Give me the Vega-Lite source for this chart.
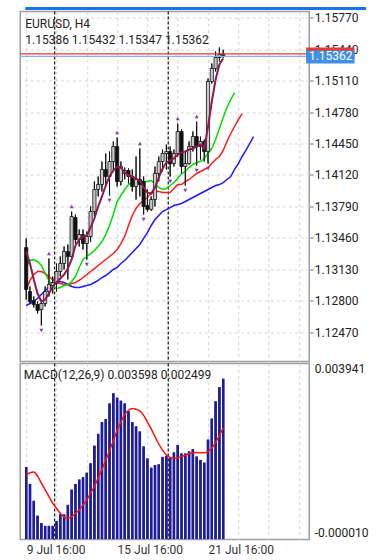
{
  "$schema": "https://vega.github.io/schema/vega-lite/v6.json",
  "background": "#ffffff",
  "padding": {"left": 18.25, "top": 5.5, "right": 0, "bottom": 0},
  "autosize": {"type": "pad"},
  "spacing": -2,
  "config": {
    "font": "Roboto",
    "view": {"stroke": "#9e9e9e", "strokeWidth": 1.5},
    "axis": {"labelFont": "Roboto", "labelFontSize": 12, "labelColor": "#222222", "gridColor": "#d4d4d4", "gridDash": [3, 3], "gridWidth": 1, "domain": false, "title": null, "labelOverlap": false, "tickCount": 30, "zindex": 0},
    "title": {"font": "Roboto", "fontSize": 12, "fontWeight": "normal", "color": "#222222", "anchor": "start", "frame": "group"}
  },
  "datasets": {
    "bars": [
      {"i":0,"o":1.1336,"h":1.13455,"l":1.12815,"c":1.1292},
      {"i":1,"o":1.12899,"h":1.12952,"l":1.12774,"c":1.12795},
      {"i":2,"o":1.12805,"h":1.12847,"l":1.12732,"c":1.12763},
      {"i":3,"o":1.12763,"h":1.12795,"l":1.12669,"c":1.127},
      {"i":4,"o":1.12711,"h":1.12815,"l":1.12543,"c":1.12774},
      {"i":5,"o":1.12774,"h":1.12952,"l":1.12742,"c":1.12899},
      {"i":6,"o":1.12899,"h":1.13245,"l":1.12847,"c":1.12973},
      {"i":7,"o":1.12962,"h":1.13056,"l":1.12878,"c":1.12994},
      {"i":8,"o":1.12983,"h":1.13193,"l":1.12899,"c":1.13109},
      {"i":9,"o":1.13109,"h":1.13266,"l":1.13056,"c":1.13193},
      {"i":10,"o":1.13193,"h":1.13371,"l":1.1313,"c":1.13318},
      {"i":11,"o":1.13318,"h":1.13392,"l":1.13025,"c":1.13266},
      {"i":12,"o":1.13266,"h":1.13737,"l":1.13245,"c":1.13685},
      {"i":13,"o":1.13675,"h":1.13706,"l":1.13402,"c":1.13444},
      {"i":14,"o":1.13444,"h":1.13549,"l":1.13371,"c":1.13496},
      {"i":15,"o":1.13496,"h":1.13549,"l":1.13339,"c":1.13402},
      {"i":16,"o":1.13402,"h":1.13528,"l":1.13235,"c":1.13476},
      {"i":17,"o":1.13476,"h":1.1379,"l":1.13423,"c":1.13737},
      {"i":18,"o":1.13737,"h":1.14052,"l":1.13685,"c":1.13968},
      {"i":19,"o":1.13968,"h":1.14104,"l":1.13895,"c":1.1402},
      {"i":20,"o":1.1402,"h":1.14261,"l":1.13947,"c":1.14178},
      {"i":21,"o":1.14178,"h":1.14345,"l":1.13999,"c":1.14104},
      {"i":22,"o":1.14104,"h":1.14366,"l":1.13905,"c":1.14261},
      {"i":23,"o":1.14261,"h":1.14471,"l":1.14157,"c":1.14418},
      {"i":24,"o":1.14418,"h":1.14513,"l":1.13999,"c":1.14052},
      {"i":25,"o":1.14052,"h":1.14261,"l":1.1401,"c":1.14209},
      {"i":26,"o":1.14136,"h":1.14198,"l":1.14073,"c":1.14167},
      {"i":27,"o":1.14167,"h":1.14188,"l":1.14031,"c":1.14104},
      {"i":28,"o":1.14104,"h":1.14178,"l":1.13947,"c":1.13999},
      {"i":29,"o":1.13999,"h":1.14314,"l":1.13863,"c":1.14073},
      {"i":30,"o":1.14073,"h":1.14398,"l":1.13895,"c":1.1402},
      {"i":31,"o":1.14052,"h":1.14104,"l":1.13706,"c":1.1379},
      {"i":32,"o":1.138,"h":1.13968,"l":1.13737,"c":1.1376},
      {"i":33,"o":1.1376,"h":1.13895,"l":1.13745,"c":1.13863},
      {"i":34,"o":1.13863,"h":1.14209,"l":1.1379,"c":1.14136},
      {"i":35,"o":1.14136,"h":1.14314,"l":1.14052,"c":1.14261},
      {"i":36,"o":1.14261,"h":1.14387,"l":1.14157,"c":1.14345},
      {"i":37,"o":1.14345,"h":1.14439,"l":1.14178,"c":1.14366},
      {"i":38,"o":1.14366,"h":1.14418,"l":1.14104,"c":1.1424},
      {"i":39,"o":1.1424,"h":1.14387,"l":1.14209,"c":1.14345},
      {"i":40,"o":1.14345,"h":1.14659,"l":1.14314,"c":1.14576},
      {"i":41,"o":1.14576,"h":1.14597,"l":1.14136,"c":1.14209},
      {"i":42,"o":1.14209,"h":1.14366,"l":1.1401,"c":1.1424},
      {"i":43,"o":1.1424,"h":1.14471,"l":1.1423,"c":1.14418},
      {"i":44,"o":1.14418,"h":1.14576,"l":1.14366,"c":1.14523},
      {"i":45,"o":1.14523,"h":1.1468,"l":1.14219,"c":1.14418},
      {"i":46,"o":1.14418,"h":1.14523,"l":1.14282,"c":1.14471},
      {"i":47,"o":1.14471,"h":1.14492,"l":1.14261,"c":1.14366},
      {"i":48,"o":1.14366,"h":1.15131,"l":1.1424,"c":1.15099},
      {"i":49,"o":1.15099,"h":1.15288,"l":1.15078,"c":1.15236},
      {"i":50,"o":1.15236,"h":1.15414,"l":1.15204,"c":1.15351},
      {"i":51,"o":1.15351,"h":1.15456,"l":1.15309,"c":1.15382},
      {"i":52,"o":1.15386,"h":1.15432,"l":1.15347,"c":1.15362}
    ],
    "lines": [
      {"i":0,"lips":1.13161,"teeth":1.1292,"jaw":1.12753,"ma":1.13318},
      {"i":1,"lips":1.13224,"teeth":1.13015,"jaw":1.12774,"ma":1.13193},
      {"i":2,"lips":1.13235,"teeth":1.13077,"jaw":1.12795,"ma":1.13025},
      {"i":3,"lips":1.13214,"teeth":1.13109,"jaw":1.12826,"ma":1.12878},
      {"i":4,"lips":1.13172,"teeth":1.13109,"jaw":1.12868,"ma":1.12795},
      {"i":5,"lips":1.13088,"teeth":1.13088,"jaw":1.1291,"ma":1.12815},
      {"i":6,"lips":1.13015,"teeth":1.13056,"jaw":1.12941,"ma":1.12878},
      {"i":7,"lips":1.12962,"teeth":1.13025,"jaw":1.12973,"ma":1.12952},
      {"i":8,"lips":1.12931,"teeth":1.13004,"jaw":1.12994,"ma":1.12994},
      {"i":9,"lips":1.12941,"teeth":1.12983,"jaw":1.13004,"ma":1.13035},
      {"i":10,"lips":1.12962,"teeth":1.12973,"jaw":1.12994,"ma":1.13077},
      {"i":11,"lips":1.12973,"teeth":1.12973,"jaw":1.12973,"ma":1.1314},
      {"i":12,"lips":1.13004,"teeth":1.12983,"jaw":1.12952,"ma":1.13235},
      {"i":13,"lips":1.13056,"teeth":1.12994,"jaw":1.12941,"ma":1.13381},
      {"i":14,"lips":1.13151,"teeth":1.13015,"jaw":1.12941,"ma":1.13444},
      {"i":15,"lips":1.13235,"teeth":1.13046,"jaw":1.12952,"ma":1.13476},
      {"i":16,"lips":1.13266,"teeth":1.13077,"jaw":1.12962,"ma":1.13486},
      {"i":17,"lips":1.13297,"teeth":1.13109,"jaw":1.12973,"ma":1.1357},
      {"i":18,"lips":1.13329,"teeth":1.1314,"jaw":1.12994,"ma":1.13664},
      {"i":19,"lips":1.13371,"teeth":1.13172,"jaw":1.13015,"ma":1.1379},
      {"i":20,"lips":1.13423,"teeth":1.13203,"jaw":1.13046,"ma":1.13895},
      {"i":21,"lips":1.13496,"teeth":1.13235,"jaw":1.13067,"ma":1.1401},
      {"i":22,"lips":1.13591,"teeth":1.13266,"jaw":1.13098,"ma":1.14104},
      {"i":23,"lips":1.13706,"teeth":1.13297,"jaw":1.1313,"ma":1.14167},
      {"i":24,"lips":1.13842,"teeth":1.13339,"jaw":1.13151,"ma":1.14209},
      {"i":25,"lips":1.13905,"teeth":1.13402,"jaw":1.13193,"ma":1.14198},
      {"i":26,"lips":1.13968,"teeth":1.13476,"jaw":1.13224,"ma":1.14146},
      {"i":27,"lips":1.1402,"teeth":1.13591,"jaw":1.13266,"ma":1.14115},
      {"i":28,"lips":1.14041,"teeth":1.13696,"jaw":1.13308,"ma":1.14104},
      {"i":29,"lips":1.14052,"teeth":1.13769,"jaw":1.1335,"ma":1.14083},
      {"i":30,"lips":1.14052,"teeth":1.13821,"jaw":1.13392,"ma":1.14062},
      {"i":31,"lips":1.14052,"teeth":1.13853,"jaw":1.13455,"ma":1.13989},
      {"i":32,"lips":1.14052,"teeth":1.13884,"jaw":1.13517,"ma":1.13937},
      {"i":33,"lips":1.14062,"teeth":1.13926,"jaw":1.13591,"ma":1.13926},
      {"i":34,"lips":1.14031,"teeth":1.13947,"jaw":1.13654,"ma":1.13989},
      {"i":35,"lips":1.13989,"teeth":1.13947,"jaw":1.13696,"ma":1.14094},
      {"i":36,"lips":1.13968,"teeth":1.13937,"jaw":1.13737,"ma":1.14188},
      {"i":37,"lips":1.13978,"teeth":1.13937,"jaw":1.13758,"ma":1.14251},
      {"i":38,"lips":1.1401,"teeth":1.13937,"jaw":1.13779,"ma":1.14272},
      {"i":39,"lips":1.14041,"teeth":1.13978,"jaw":1.138,"ma":1.14293},
      {"i":40,"lips":1.14083,"teeth":1.1402,"jaw":1.13811,"ma":1.14335},
      {"i":41,"lips":1.14136,"teeth":1.1402,"jaw":1.13821,"ma":1.14356},
      {"i":42,"lips":1.14157,"teeth":1.14052,"jaw":1.13842,"ma":1.14366},
      {"i":43,"lips":1.14198,"teeth":1.14073,"jaw":1.13863,"ma":1.14387},
      {"i":44,"lips":1.1423,"teeth":1.14104,"jaw":1.13884,"ma":1.14398},
      {"i":45,"lips":1.14251,"teeth":1.14136,"jaw":1.13905,"ma":1.14418},
      {"i":46,"lips":1.14261,"teeth":1.14157,"jaw":1.13926,"ma":1.14439},
      {"i":47,"lips":1.14293,"teeth":1.14178,"jaw":1.13947,"ma":1.14398},
      {"i":48,"lips":1.14345,"teeth":1.14198,"jaw":1.13968,"ma":1.14628},
      {"i":49,"lips":1.14398,"teeth":1.1424,"jaw":1.13989,"ma":1.1489},
      {"i":50,"lips":1.14492,"teeth":1.14282,"jaw":1.1401,"ma":1.1512},
      {"i":51,"lips":1.14607,"teeth":1.14314,"jaw":1.1402,"ma":1.15278},
      {"i":52,"lips":1.14722,"teeth":1.14377,"jaw":1.14041,"ma":1.1534},
      {"i":53,"lips":1.14827,"teeth":1.14471,"jaw":1.14073},
      {"i":54,"lips":1.14911,"teeth":1.14555,"jaw":1.14104},
      {"i":55,"lips":1.14984,"teeth":1.14628,"jaw":1.14178},
      {"i":56,"teeth":1.14701,"jaw":1.1424},
      {"i":57,"teeth":1.14764,"jaw":1.14314},
      {"i":58,"jaw":1.14377},
      {"i":59,"jaw":1.1445},
      {"i":60,"jaw":1.14523}
    ],
    "fractals": [
      {"i":6,"d":"up","v":1.13245},{"i":12,"d":"up","v":1.13737},{"i":24,"d":"up","v":1.14513},
      {"i":30,"d":"up","v":1.14398},{"i":40,"d":"up","v":1.14659},{"i":45,"d":"up","v":1.1468},
      {"i":4,"d":"down","v":1.12543},{"i":16,"d":"down","v":1.13235},{"i":22,"d":"down","v":1.13905},
      {"i":31,"d":"down","v":1.13706},{"i":38,"d":"down","v":1.14104},{"i":42,"d":"down","v":1.1401},
      {"i":45,"d":"down","v":1.14219},{"i":48,"d":"down","v":1.1424}
    ],
    "macd": [
      {"i":0,"m":0.001617,"s":0.001427},{"i":1,"m":0.001237,"s":0.001488},{"i":2,"m":0.000858,"s":0.001503},
      {"i":3,"m":0.000524,"s":0.001412},{"i":4,"m":0.000357,"s":0.00126},{"i":5,"m":0.000296,"s":0.001109},
      {"i":6,"m":0.000296,"s":0.000956},{"i":7,"m":0.000296,"s":0.000805},{"i":8,"m":0.000402,"s":0.000691},
      {"i":9,"m":0.000554,"s":0.000577},{"i":10,"m":0.000554,"s":0.000494},{"i":11,"m":0.000767,"s":0.000463},
      {"i":12,"m":0.001109,"s":0.000501},{"i":13,"m":0.001237,"s":0.000577},{"i":14,"m":0.001336,"s":0.000653},
      {"i":15,"m":0.001389,"s":0.000767},{"i":16,"m":0.001488,"s":0.000881},{"i":17,"m":0.0017,"s":0.001033},
      {"i":18,"m":0.002095,"s":0.001184},{"i":19,"m":0.002361,"s":0.001374},{"i":20,"m":0.002626,"s":0.001564},
      {"i":21,"m":0.002694,"s":0.001769},{"i":22,"m":0.003044,"s":0.001981},{"i":23,"m":0.003272,"s":0.002209},
      {"i":24,"m":0.003173,"s":0.002437},{"i":25,"m":0.003105,"s":0.002626},{"i":26,"m":0.003044,"s":0.002793},
      {"i":27,"m":0.002869,"s":0.002892},{"i":28,"m":0.002626,"s":0.00293},{"i":29,"m":0.002528,"s":0.002915},
      {"i":30,"m":0.002414,"s":0.002877},{"i":31,"m":0.002079,"s":0.002778},{"i":32,"m":0.001806,"s":0.002626},
      {"i":33,"m":0.001601,"s":0.002475},{"i":34,"m":0.001662,"s":0.0023},{"i":35,"m":0.001677,"s":0.002134},
      {"i":36,"m":0.001844,"s":0.001997},{"i":37,"m":0.001867,"s":0.00189},{"i":38,"m":0.001829,"s":0.001829},
      {"i":39,"m":0.001943,"s":0.001814},{"i":40,"m":0.00211,"s":0.001822},{"i":41,"m":0.00192,"s":0.001852},
      {"i":42,"m":0.00192,"s":0.001882},{"i":43,"m":0.001966,"s":0.001913},{"i":44,"m":0.002019,"s":0.001935},
      {"i":45,"m":0.001852,"s":0.001943},{"i":46,"m":0.001776,"s":0.001935},{"i":47,"m":0.001715,"s":0.001935},
      {"i":48,"m":0.002232,"s":0.001966},{"i":49,"m":0.002703,"s":0.002042},{"i":50,"m":0.00309,"s":0.002171},
      {"i":51,"m":0.003409,"s":0.002323},{"i":52,"m":0.003598,"s":0.002499}
    ],
    "seps": [{"i":7.5},{"i":37.5}],
    "levels": [{"k":"ask","p":1.15388},{"k":"bid","p":1.15362}]
  },
  "vconcat": [
    {
      "width": 289,
      "height": 350,
      "title": {"text": ["EURUSD, H4", "1.15386 1.15432 1.15347 1.15362"], "baseline": "bottom", "offset": -52, "dx": 5, "lineHeight": 16},
      "layer": [
        {
          "data": {"name": "bars"},
          "mark": {"type": "rule", "color": "#111111", "strokeWidth": 1},
          "encoding": {
            "x": {"field": "i", "type": "quantitative", "scale": {"domain": [-0.25, 73.4], "nice": false, "zero": false},
                  "axis": {"values": [0,8,16,24,32,40,48,56,64,72], "tickCount": 30, "labels": false, "ticks": false, "grid": true, "minExtent": 0, "maxExtent": 0, "zindex": 0}},
            "y": {"field": "l", "type": "quantitative", "scale": {"domain": [1.12166, 1.15833], "nice": false, "zero": false},
                  "axis": {"orient": "right", "values": [1.1247,1.128,1.1313,1.1346,1.1379,1.1412,1.1445,1.1478,1.1511,1.1544,1.1577], "tickCount": 30, "format": ".5f", "tickSize": 4, "tickColor": "#777777", "labelPadding": 1, "grid": true, "labelOverlap": false, "zindex": 0}},
            "y2": {"field": "h"}
          }
        },
        {
          "data": {"name": "seps"},
          "mark": {"type": "rule", "color": "#222222", "strokeDash": [3, 2], "strokeWidth": 1.3},
          "encoding": {"x": {"field": "i", "type": "quantitative"}}
        },
        {
          "data": {"name": "lines"},
          "mark": {"type": "line", "color": "#1a1aff", "strokeWidth": 1.5},
          "encoding": {"x": {"field": "i", "type": "quantitative"}, "y": {"field": "jaw", "type": "quantitative"}}
        },
        {
          "data": {"name": "lines"},
          "mark": {"type": "line", "color": "#ff1a1a", "strokeWidth": 1.5},
          "encoding": {"x": {"field": "i", "type": "quantitative"}, "y": {"field": "teeth", "type": "quantitative"}}
        },
        {
          "data": {"name": "lines"},
          "mark": {"type": "line", "color": "#00dd00", "strokeWidth": 1.5},
          "encoding": {"x": {"field": "i", "type": "quantitative"}, "y": {"field": "lips", "type": "quantitative"}}
        },
        {
          "data": {"name": "bars"},
          "mark": {"type": "rule", "color": "#111111", "strokeWidth": 1},
          "encoding": {"x": {"field": "i", "type": "quantitative"}, "y": {"field": "l", "type": "quantitative"}, "y2": {"field": "h"}}
        },
        {
          "data": {"name": "bars"},
          "mark": {"type": "bar", "size": 3.2, "stroke": "#111111", "strokeWidth": 0.8},
          "encoding": {
            "x": {"field": "i", "type": "quantitative"},
            "y": {"field": "o", "type": "quantitative"},
            "y2": {"field": "c"},
            "fill": {"condition": {"test": "datum.c < datum.o", "value": "#111111"}, "value": "#c8c8c8"}
          }
        },
        {
          "data": {"name": "lines"},
          "mark": {"type": "line", "color": "#8e1a50", "strokeWidth": 2},
          "encoding": {"x": {"field": "i", "type": "quantitative"}, "y": {"field": "ma", "type": "quantitative"}}
        },
        {
          "data": {"name": "fractals"},
          "transform": [{"filter": "datum.d == 'up'"}],
          "mark": {"type": "point", "shape": "triangle-up", "filled": true, "size": 16, "color": "#7d3cc9", "opacity": 1, "yOffset": -5},
          "encoding": {"x": {"field": "i", "type": "quantitative"}, "y": {"field": "v", "type": "quantitative"}}
        },
        {
          "data": {"name": "fractals"},
          "transform": [{"filter": "datum.d == 'down'"}],
          "mark": {"type": "point", "shape": "triangle-down", "filled": true, "size": 16, "color": "#7d3cc9", "opacity": 1, "yOffset": 5},
          "encoding": {"x": {"field": "i", "type": "quantitative"}, "y": {"field": "v", "type": "quantitative"}}
        },
        {
          "data": {"name": "levels"},
          "mark": {"type": "rule", "strokeWidth": 1.2},
          "encoding": {
            "y": {"field": "p", "type": "quantitative"},
            "color": {"field": "k", "type": "nominal", "scale": {"domain": ["ask", "bid"], "range": ["#e53935", "#7fb4ee"]}, "legend": null}
          }
        },
        {
          "data": {"values": [{}]},
          "mark": {"type": "rect", "color": "#e53935", "zindex": 2},
          "encoding": {"x": {"datum": 73.9}, "x2": {"datum": 86.65}, "y": {"datum": 1.15456}, "y2": {"datum": 1.15319}}
        },
        {
          "data": {"values": [{}]},
          "mark": {"type": "rect", "color": "#3f8fe6", "zindex": 3},
          "encoding": {"x": {"datum": 73.9}, "x2": {"datum": 86.65}, "y": {"datum": 1.15424}, "y2": {"datum": 1.15288}}
        },
        {
          "data": {"name": "levels"},
          "transform": [{"filter": "datum.k == 'bid'"}],
          "mark": {"type": "text", "color": "#ffffff", "font": "Roboto", "fontSize": 12, "align": "center", "baseline": "middle", "zindex": 4},
          "encoding": {"x": {"datum": 80.4}, "y": {"field": "p", "type": "quantitative"}, "text": {"field": "p", "type": "quantitative", "format": ".5f"}}
        },
        {
          "data": {"values": [{}]},
          "mark": {"type": "rule", "color": "#1a73e8", "strokeWidth": 3},
          "encoding": {"x": {"datum": -0.25}, "x2": {"datum": 89.7}, "y": {"datum": 1.15864}}
        }
      ]
    },
    {
      "width": 289,
      "height": 176,
      "title": {"text": "MACD(12,26,9) 0.003598 0.002499", "baseline": "bottom", "offset": -31, "dx": 3.5},
      "layer": [
        {
          "data": {"name": "macd"},
          "mark": {"type": "bar", "size": 2.4, "color": "#1c1c9c"},
          "encoding": {
            "x": {"field": "i", "type": "quantitative", "scale": {"domain": [-0.25, 73.4], "nice": false, "zero": false},
                  "axis": {"values": [0,8,16,24,32,40,48,56,64,72], "tickCount": 30, "grid": true, "ticks": false, "labelAlign": "left", "labelBaseline": "top", "labelPadding": 5, "labelOverlap": false, "labelColor": "#333333",
                           "labelExpr": "datum.value == 0 ? '9 Jul 16:00' : datum.value == 24 ? '15 Jul 16:00' : datum.value == 48 ? '21 Jul 16:00' : ''"}},
            "y": {"field": "m", "type": "quantitative", "scale": {"domain": [-0.00001, 0.003941], "nice": false, "zero": false},
                  "axis": {"orient": "right", "values": [-0.00001, 0.003941], "ticks": false, "grid": false, "labelPadding": 5, "labelFlush": true, "labelOverlap": false,
                           "labelExpr": "replace(format(datum.value, '.6f'), '\u2212', '-')"}},
            "y2": {"datum": 0}
          }
        },
        {
          "data": {"name": "seps"},
          "mark": {"type": "rule", "color": "#222222", "strokeDash": [3, 2], "strokeWidth": 1.3},
          "encoding": {"x": {"field": "i", "type": "quantitative"}}
        },
        {
          "data": {"name": "macd"},
          "mark": {"type": "bar", "size": 2.4, "color": "#1c1c9c"},
          "encoding": {"x": {"field": "i", "type": "quantitative"}, "y": {"field": "m", "type": "quantitative"}, "y2": {"datum": 0}}
        },
        {
          "data": {"name": "macd"},
          "mark": {"type": "line", "color": "#ff1010", "strokeWidth": 1.5, "interpolate": "monotone"},
          "encoding": {"x": {"field": "i", "type": "quantitative"}, "y": {"field": "s", "type": "quantitative"}}
        }
      ]
    }
  ]
}
